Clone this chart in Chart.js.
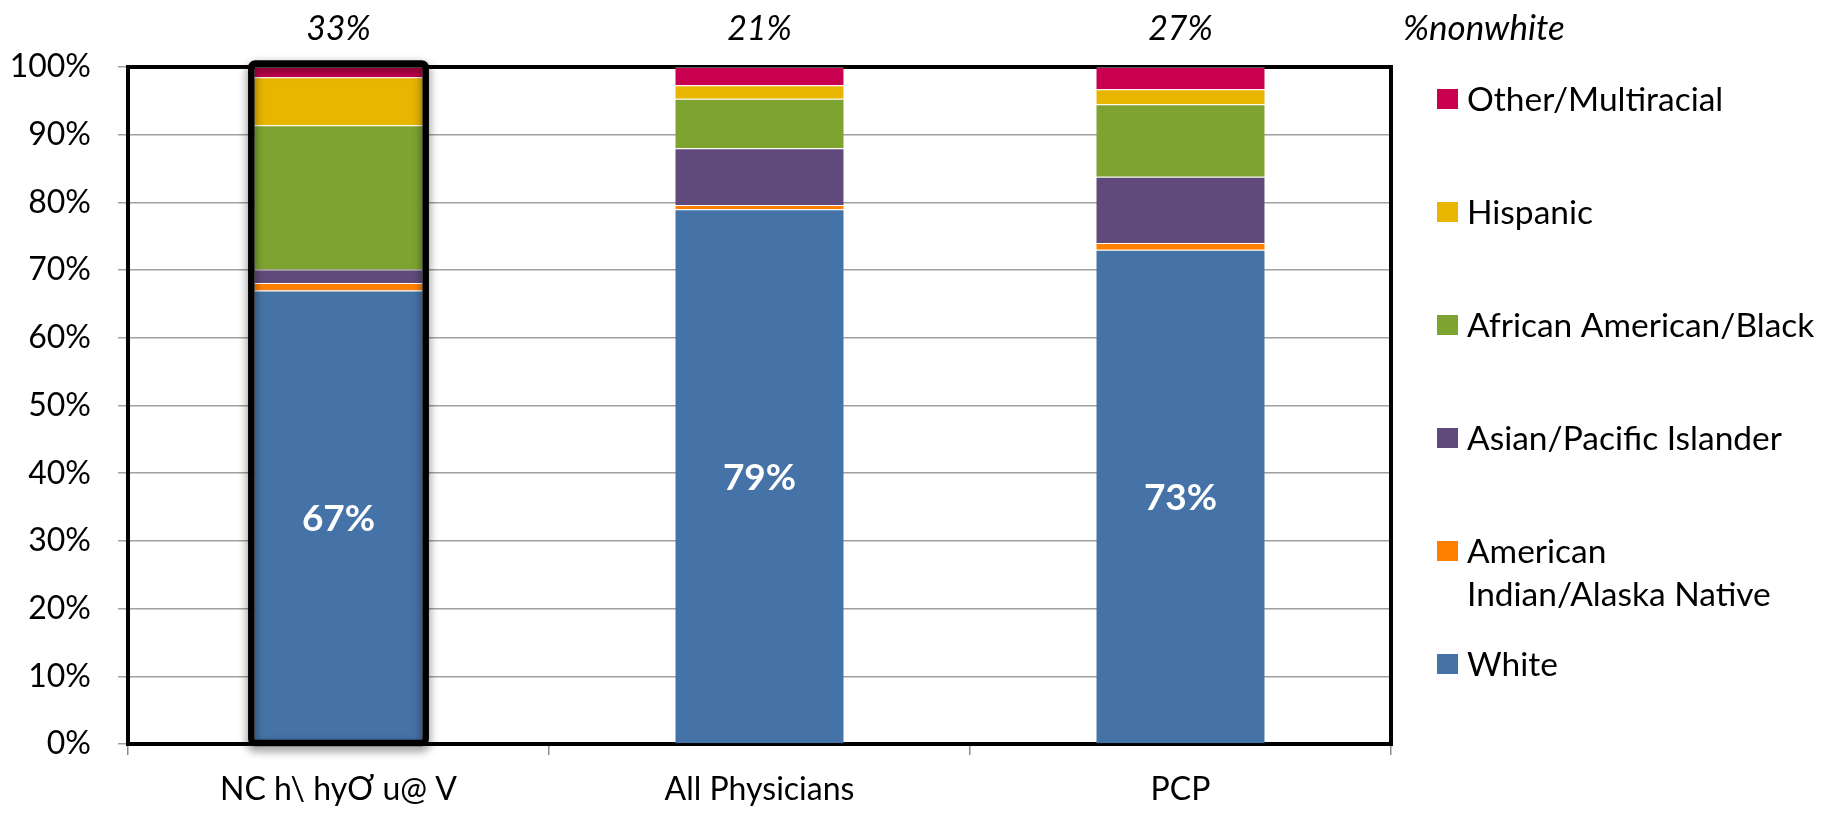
<!DOCTYPE html>
<html>
<head>
<meta charset="utf-8">
<script src="https://cdn.jsdelivr.net/npm/chart.js@4/dist/chart.umd.min.js"></script>
<style>
  body { margin: 0; background: #fff; }
  #wrap { width: 1826px; height: 813px; }
</style>
</head>
<body>
<div id="wrap"><canvas id="raceChart" width="1826" height="813"></canvas></div>
<script>
// groups along the x axis
const categories = ['NC h\\ hyƠ u@ V', 'All Physicians', 'PCP'];

// share of each group, percent (stacked bottom to top)
const white = [67, 79, 73];
const amIndian = [1.1, 0.6, 1.0];
const asianPacific = [2.0, 8.4, 9.8];
const africanAmerican = [21.3, 7.3, 10.7];
const hispanic = [7.1, 2.0, 2.2];
const otherMulti = [1.5, 2.7, 3.3];

const yTicks = [0, 10, 20, 30, 40, 50, 60, 70, 80, 90, 100];

const FONT = 'Lato, "Open Sans", sans-serif';

const series = [
    { label: 'White', data: white, color: '#4573a7' },
    { label: 'American Indian/Alaska Native', legendLines: ['American', 'Indian/Alaska Native'], data: amIndian, color: '#ff8000' },
    { label: 'Asian/Pacific Islander', data: asianPacific, color: '#604a7b' },
    { label: 'African American/Black', data: africanAmerican, color: '#7ea331' },
    { label: 'Hispanic', data: hispanic, color: '#e8b600' },
    { label: 'Other/Multiracial', data: otherMulti, color: '#c8004f' }
];

// black frame around the plot area, under the bars
const frame = {
    id: 'frame',
    beforeDatasetsDraw(chart) {
        const { ctx, chartArea: a } = chart;
        ctx.save();
        ctx.strokeStyle = '#000';
        ctx.lineWidth = 4;
        ctx.strokeRect(a.left, a.top, a.right - a.left, a.bottom - a.top);
        ctx.restore();
    }
};

// white % in the blue block, %nonwhite above, highlight box on first bar
const annotations = {
    id: 'annotations',
    afterDatasetsDraw(chart) {
        const { ctx, chartArea: a } = chart;
        const bars = chart.getDatasetMeta(0).data;
        ctx.save();

        // highlight box
        const b = bars[0];
        const l = b.x - b.width / 2 - 3, r = b.x + b.width / 2 + 3;
        const t = a.top - 3.5, btm = a.bottom - 1;
        ctx.shadowColor = 'rgba(0,0,0,0.55)';
        ctx.shadowBlur = 10;
        ctx.shadowOffsetY = 4;
        ctx.strokeStyle = '#000';
        ctx.lineWidth = 6.5;
        ctx.beginPath();
        ctx.roundRect(l, t, r - l, btm - t, 4);
        ctx.stroke();
        ctx.shadowColor = 'transparent';

        ctx.textAlign = 'center';
        ctx.textBaseline = 'middle';
        bars.forEach((el, i) => {
            ctx.fillStyle = '#fff';
            ctx.font = 'bold 37px ' + FONT;
            ctx.fillText(white[i] + '%', el.x, (el.y + el.base) / 2 + 2);
            ctx.fillStyle = '#000';
            ctx.font = 'italic 34px ' + FONT;
            ctx.fillText((100 - white[i]) + '%', el.x, 29);
        });
        ctx.textAlign = 'left';
        ctx.font = 'italic 35px ' + FONT;
        ctx.fillText('%nonwhite', 1403, 29);
        ctx.restore();
    }
};

// legend on the right, top item is the top of the stack
const sideLegend = {
    id: 'sideLegend',
    afterDraw(chart) {
        const { ctx } = chart;
        ctx.save();
        ctx.font = '33.5px ' + FONT;
        ctx.textBaseline = 'middle';
        series.slice().reverse().forEach((s, i) => {
            const y = 99 + i * 113;
            ctx.fillStyle = s.color;
            ctx.fillRect(1437, y - 10, 21, 20);
            ctx.fillStyle = '#000';
            const lines = s.legendLines || [s.label];
            lines.forEach((line, j) => ctx.fillText(line, 1467, y + 1 + j * 43));
        });
        ctx.restore();
    }
};

const ctx = document.getElementById('raceChart').getContext('2d');
const raceChart = new Chart(ctx, {
    type: 'bar',
    data: {
        labels: categories,
        datasets: series.map(s => ({
            label: s.label,
            data: s.data,
            backgroundColor: s.color,
            borderColor: 'rgba(255,255,255,0.35)',
            borderWidth: { top: 1, bottom: 0, left: 0, right: 0 },
            barPercentage: 0.4,
            categoryPercentage: 1
        }))
    },
    options: {
        responsive: false,
        animation: false,
        layout: { padding: { left: 0, top: 67, right: 435, bottom: 0 } },
        plugins: {
            legend: { display: false },
            tooltip: { enabled: false }
        },
        scales: {
            x: {
                stacked: true,
                afterFit: s => { s.height = 69; },
                grid: { drawOnChartArea: false, tickLength: 11, color: '#8c8c8c', lineWidth: 1.5 },
                border: { display: false },
                ticks: { color: '#000', padding: 15, font: { family: FONT, size: 32 } }
            },
            y: {
                stacked: true,
                min: 0,
                max: 100,
                afterFit: s => { s.width = 128; },
                afterBuildTicks: s => { s.ticks = yTicks.map(v => ({ value: v })); },
                grid: { color: '#a0a0a0', lineWidth: 1.5, tickLength: 10 },
                border: { display: false },
                ticks: {
                    color: '#000',
                    padding: 27,
                    font: { family: FONT, size: 32 },
                    callback: v => v + '%'
                }
            }
        }
    },
    plugins: [frame, annotations, sideLegend]
});
</script>
</body>
</html>
